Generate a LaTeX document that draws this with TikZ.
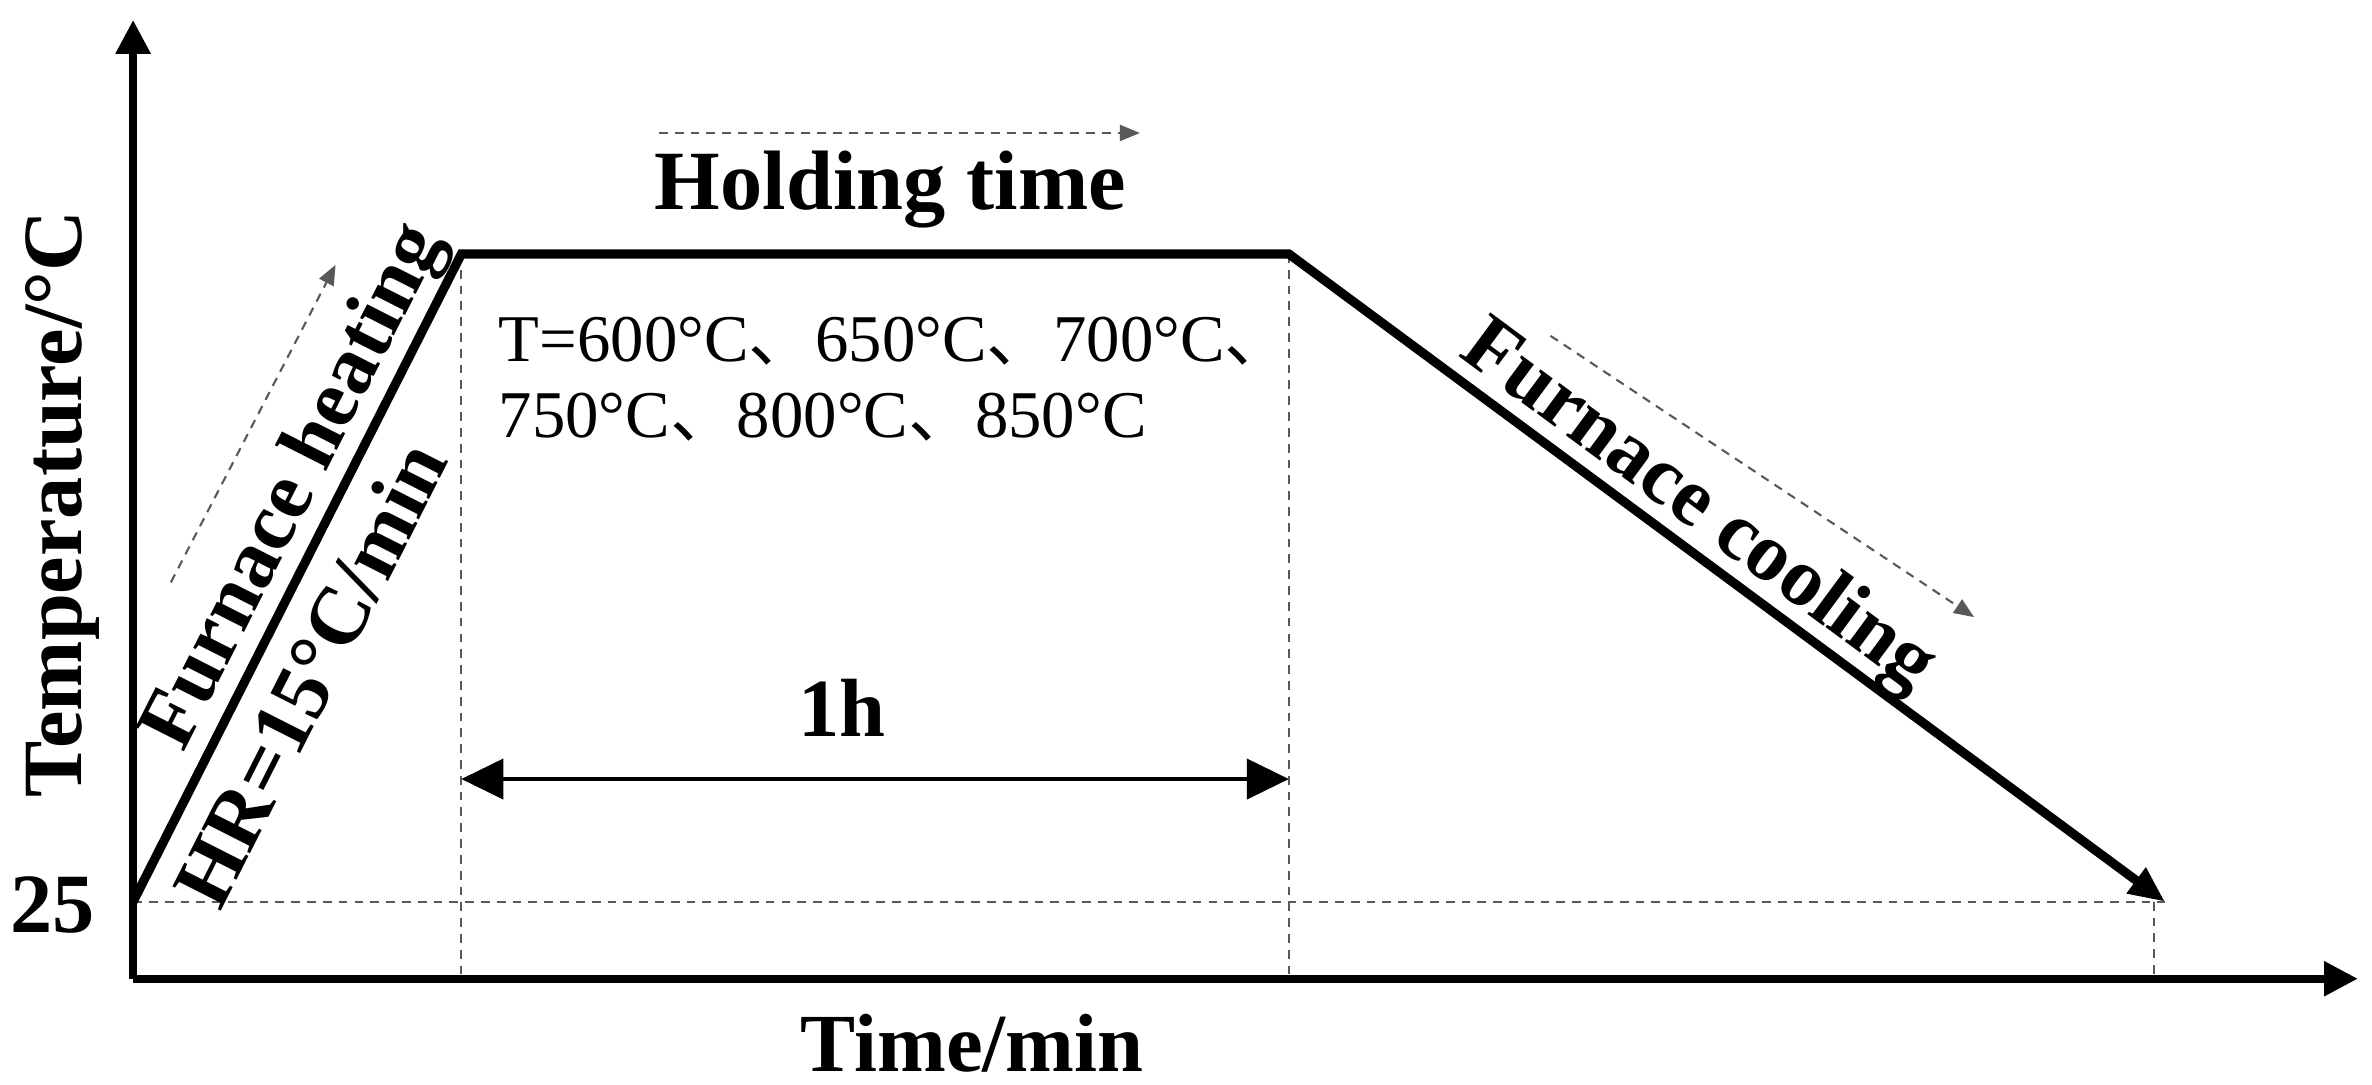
\documentclass[tikz,border=0pt]{standalone}
\usepackage{fontspec}
\setmainfont{Liberation Serif}
\newfontfamily\cjk{Noto Sans CJK SC}
\newcommand{\dun}{{\cjk 、}}
\usetikzlibrary{arrows.meta}

\begin{document}
\begin{tikzpicture}[
    axis/.style={line width=2.4pt, -{Triangle[length=0.34cm, width=0.33cm]}},
    curve/.style={line width=2.6pt, line join=miter, -{Triangle[length=0.36cm, width=0.3cm]}},
    guide/.style={gray!70!black, line width=0.6pt, dash pattern=on 2.5pt off 2pt},
    hint/.style={guide, -{Triangle[length=0.2cm, width=0.16cm]}},
    span/.style={line width=1.2pt, {Triangle[length=0.42cm, width=0.4cm]}-{Triangle[length=0.42cm, width=0.4cm]}},
    lab/.style={font=\bfseries\fontsize{23.5}{26}\selectfont, inner sep=0pt},
    big/.style={lab, font=\bfseries\fontsize{24}{26}\selectfont},
    temps/.style={font=\fontsize{19}{21}\selectfont, inner sep=0pt, anchor=base west},
    ]
    \useasboundingbox (-1.331,-1.059) rectangle (22.39,9.788);
    % key points of the schedule
    \coordinate (O) at (0,0);
    \coordinate (ytip) at (0,9.59);
    \coordinate (xtip) at (22.25,0);
    \coordinate (start) at (0,0.77);
    \coordinate (tl) at (3.283,7.248);
    \coordinate (tr) at (11.558,7.248);
    \coordinate (stop) at (20.32,0.77);
    \coordinate (tlx) at (3.283,0);
    \coordinate (trx) at (11.558,0);
    \coordinate (stopx) at (20.21,0);
    \coordinate (stopy) at (20.21,0.77);
    \coordinate (sl) at (3.283,1.997);
    \coordinate (sr) at (11.558,1.997);
    % guide lines
    \draw[guide] (start) -- (stop);
    \draw[guide] (tl) -- (tlx);
    \draw[guide] (tr) -- (trx);
    \draw[guide] (stopy) -- (stopx);
    % axes
    \draw[axis] (O) -- (ytip);
    \draw[axis] (O) -- (xtip);
    \draw[curve] (start) -- (tl) -- (tr) -- (stop);
    \draw[span] (sl) -- (sr);
    % hint arrows
    \coordinate (h1) at (0.378,3.964);
    \coordinate (h2) at (2.025,7.140);
    \coordinate (k1) at (5.259,8.458);
    \coordinate (k2) at (10.069,8.458);
    \coordinate (c1) at (14.175,6.429);
    \coordinate (c2) at (18.411,3.616);
    \draw[hint] (h1) -- (h2);
    \draw[hint] (k1) -- (k2);
    \draw[hint] (c1) -- (c2);
    % labels
    \node[big, rotate=90, anchor=base] (ylab) at (-0.511,4.748) {Temperature/°C};
    \node[big, anchor=base] (tick) at (-0.806,0.458) {25};
    \node[lab, anchor=base] (xlab) at (8.39,-0.93) {Time/min};
    \node[big, anchor=base] (hold) at (7.574,7.688) {Holding time};
    \node[lab, anchor=base] (dur) at (7.09,2.42) {1h};
    \path (start) -- (tl)
        node[lab, sloped, pos=0.61, above=1pt] (heat) {Furnace heating}
        node[lab, sloped, pos=0.39, below=7pt] (rate) {HR=15°C/min};
    \path (tr) -- (stop)
        node[lab, sloped, pos=0.44, above=0pt] (cool) {Furnace cooling};
    \node[temps] (tone) at (3.65,6.168) {T=600°C\dun650°C\dun700°C\dun};
    \node[temps] (ttwo) at (3.65,5.408) {750°C\dun800°C\dun850°C};
\end{tikzpicture}
\end{document}
